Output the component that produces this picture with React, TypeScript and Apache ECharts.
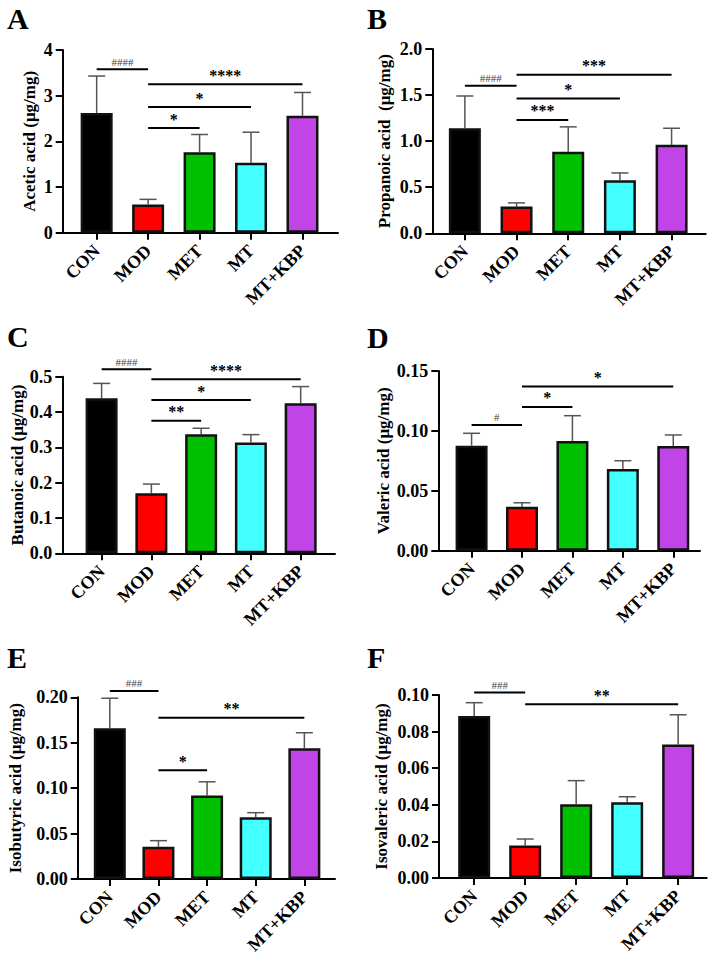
import React, { useEffect, useRef } from "react";
import * as echarts from "echarts";

const categories = ["CON", "MOD", "MET", "MT", "MT+KBP"];
const barColors = ["#000000", "#FF0000", "#00C000", "#44FFFF", "#C044E6"];

// Panel A: Acetic acid
const aceticMean = [2.62, 0.62, 1.76, 1.53, 2.56];
const aceticErr = [0.81, 0.11, 0.39, 0.67, 0.51];
const aceticSig: [number, number, number, string][] = [
  [0, 1, 3.58, "####"],
  [1, 4, 3.25, "****"],
  [1, 3, 2.75, "*"],
  [1, 2, 2.29, "*"],
];

// Panel B: Propanoic acid
const propanoicMean = [1.14, 0.29, 0.885, 0.575, 0.96];
const propanoicErr = [0.35, 0.04, 0.27, 0.08, 0.18];
const propanoicSig: [number, number, number, string][] = [
  [0, 1, 1.6, "####"],
  [1, 4, 1.72, "***"],
  [1, 3, 1.464, "*"],
  [1, 2, 1.23, "***"],
];

// Panel C: Butanoic acid
const butanoicMean = [0.439, 0.17, 0.337, 0.314, 0.4245];
const butanoicErr = [0.042, 0.026, 0.017, 0.022, 0.0475];
const butanoicSig: [number, number, number, string][] = [
  [0, 1, 0.521, "####"],
  [1, 4, 0.4925, "****"],
  [1, 3, 0.434, "*"],
  [1, 2, 0.375, "**"],
];

// Panel D: Valeric acid
const valericMean = [0.0877, 0.0367, 0.0916, 0.0682, 0.0874];
const valericErr = [0.0103, 0.0033, 0.0211, 0.0069, 0.0092];
const valericSig: [number, number, number, string][] = [
  [0, 1, 0.105, "#"],
  [1, 4, 0.137, "*"],
  [1, 2, 0.12, "*"],
];

// Panel E: Isobutyric acid
const isobutyricMean = [0.166, 0.0356, 0.092, 0.068, 0.144];
const isobutyricErr = [0.033, 0.0066, 0.015, 0.005, 0.017];
const isobutyricSig: [number, number, number, string][] = [
  [0, 1, 0.207, "###"],
  [1, 4, 0.1776, "**"],
  [1, 2, 0.1197, "*"],
];

// Panel F: Isovaleric acid
const isovalericMean = [0.0885, 0.0177, 0.0403, 0.0414, 0.073];
const isovalericErr = [0.0073, 0.0036, 0.0129, 0.003, 0.0162];
const isovalericSig: [number, number, number, string][] = [
  [0, 1, 0.1013, "###"],
  [1, 4, 0.0949, "**"],
];

const panelLetters = ["A", "B", "C", "D", "E", "F"];
const yTitles = [
  "Acetic acid (μg/mg)",
  "Propanoic acid  (μg/mg)",
  "Butanoic acid (μg/mg)",
  "Valeric acid (μg/mg)",
  "Isobutyric acid (μg/mg)",
  "Isovaleric acid (μg/mg)",
];
const yMax = [4, 2, 0.5, 0.15, 0.2, 0.1];
const yStep = [1, 0.5, 0.1, 0.05, 0.05, 0.02];
const yDecimals = [0, 1, 1, 2, 2, 2];

const means = [aceticMean, propanoicMean, butanoicMean, valericMean, isobutyricMean, isovalericMean];
const errs = [aceticErr, propanoicErr, butanoicErr, valericErr, isobutyricErr, isovalericErr];
const sigs = [aceticSig, propanoicSig, butanoicSig, valericSig, isobutyricSig, isovalericSig];

// layout (pixels)
const layout = [
  { left: 62.7, top: 50, width: 275.3, height: 182.7, xmin: -0.66, xmax: 4.69, nameGap: 25, lx: 7, ly: 18 },
  { left: 432.3, top: 49, width: 273.4, height: 184.3, xmin: -0.63, xmax: 4.66, nameGap: 39.5, lx: 367, ly: 18 },
  { left: 62.3, top: 376.7, width: 272.7, height: 176.6, xmin: -0.79, xmax: 4.69, nameGap: 28.5, lx: 7, ly: 336 },
  { left: 438.3, top: 371, width: 261.7, height: 179.7, xmin: -0.66, xmax: 4.53, nameGap: 46.5, lx: 367, ly: 337 },
  { left: 77.7, top: 697.3, width: 257.3, height: 181.7, xmin: -0.66, xmax: 4.63, nameGap: 54, lx: 7, ly: 657.5 },
  { left: 439, top: 695, width: 267.7, height: 183, xmin: -0.69, xmax: 4.56, nameGap: 49, lx: 367, ly: 657 },
];

const FONT = "'Times New Roman', 'Liberation Serif', serif";
const catIdx = [0, 1, 2, 3, 4];

export default function App() {
  const ref = useRef<HTMLDivElement>(null);
  useEffect(() => {
    if (!ref.current) return;
    const chart = echarts.init(ref.current, undefined, { renderer: "svg" });
    const grid: any[] = [];
    const xAxis: any[] = [];
    const yAxis: any[] = [];
    const series: any[] = [];
    const graphic: any[] = [];

    layout.forEach((L, p) => {
      grid.push({ left: L.left, top: L.top, width: L.width, height: L.height, containLabel: false });
      xAxis.push({
        type: "value",
        gridIndex: p,
        min: L.xmin,
        max: L.xmax,
        splitLine: { show: false },
        axisLine: { show: true, onZero: false, lineStyle: { color: "#000", width: 2 } },
        axisTick: { show: true, customValues: catIdx, length: 7, lineStyle: { color: "#000", width: 2 } },
        axisLabel: {
          show: true,
          customValues: catIdx,
          formatter: (v: number) => categories[Math.round(v)] ?? "",
          rotate: 45,
          margin: 15,
          color: "#000",
          fontFamily: FONT,
          fontWeight: "bold",
          fontSize: 18,
        },
      });
      yAxis.push({
        type: "value",
        gridIndex: p,
        min: 0,
        max: yMax[p],
        interval: yStep[p],
        name: yTitles[p],
        nameLocation: "middle",
        nameRotate: 90,
        nameGap: L.nameGap,
        nameTextStyle: { color: "#000", fontFamily: FONT, fontWeight: "bold", fontSize: 17 },
        splitLine: { show: false },
        axisLine: { show: true, onZero: false, lineStyle: { color: "#000", width: 2 } },
        axisTick: { show: true, length: 7, lineStyle: { color: "#000", width: 2 } },
        axisLabel: {
          margin: 10,
          color: "#000",
          fontFamily: FONT,
          fontWeight: "bold",
          fontSize: 18,
          formatter: (v: number) => v.toFixed(yDecimals[p]),
        },
      });

      const m = means[p];
      const e = errs[p];
      series.push({
        type: "custom",
        xAxisIndex: p,
        yAxisIndex: p,
        clip: false,
        z: 1,
        data: categories.map((_, i) => [i, m[i], m[i] + e[i]]),
        renderItem: (params: any, api: any) => {
          const x = api.value(0);
          const p0 = api.coord([x, api.value(1)]);
          const p1 = api.coord([x, api.value(2)]);
          const st = { stroke: "#555", lineWidth: 1.5 };
          return {
            type: "group",
            children: [
              { type: "line", shape: { x1: p0[0], y1: p0[1], x2: p1[0], y2: p1[1] }, style: st },
              { type: "line", shape: { x1: p1[0] - 8.5, y1: p1[1], x2: p1[0] + 8.5, y2: p1[1] }, style: st },
            ],
          };
        },
      });
      series.push({
        type: "bar",
        xAxisIndex: p,
        yAxisIndex: p,
        barWidth: 32,
        z: 2,
        data: categories.map((_, i) => ({
          value: [i, m[i]],
          itemStyle: { color: barColors[i], borderColor: "#111", borderWidth: 2.5 },
        })),
      });
      const S = sigs[p];
      series.push({
        type: "custom",
        xAxisIndex: p,
        yAxisIndex: p,
        clip: false,
        z: 3,
        data: S.map((s) => [s[0], s[2], s[1]]),
        renderItem: (params: any, api: any) => {
          const s = S[params.dataIndex];
          const a = api.coord([s[0], s[2]]);
          const b = api.coord([s[1], s[2]]);
          const isHash = s[3].indexOf("#") >= 0;
          return {
            type: "group",
            children: [
              { type: "line", shape: { x1: a[0], y1: a[1], x2: b[0], y2: b[1] }, style: { stroke: "#000", lineWidth: 2 } },
              {
                type: "text",
                x: (a[0] + b[0]) / 2,
                y: a[1] - (isHash ? 2 : 1),
                style: {
                  text: s[3],
                  fill: isHash ? "#444" : "#000",
                  fontFamily: FONT,
                  fontWeight: isHash ? "normal" : "bold",
                  fontSize: isHash ? 11 : 16,
                  align: "center",
                  verticalAlign: "bottom",
                },
              },
            ],
          };
        },
      });

      graphic.push({
        type: "text",
        x: L.lx,
        y: L.ly,
        style: {
          text: panelLetters[p],
          fill: "#000",
          fontFamily: FONT,
          fontWeight: "bold",
          fontSize: 30,
          verticalAlign: "middle",
        },
      });
    });

    chart.setOption({
      animation: false,
      backgroundColor: "#fff",
      grid,
      xAxis,
      yAxis,
      series,
      graphic,
    });
    return () => chart.dispose();
  }, []);
  return <div ref={ref} style={{ position: "absolute", left: 0, top: 0, width: 713, height: 958 }} />;
}
